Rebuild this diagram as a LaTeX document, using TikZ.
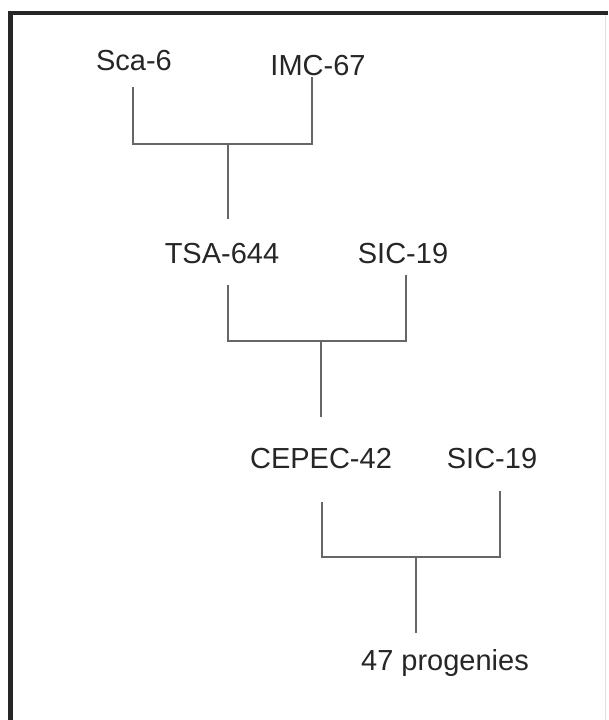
\documentclass[tikz,border=0pt]{standalone}
\usepackage{fontspec}
\setmainfont{Liberation Sans}
\begin{document}
\begin{tikzpicture}[
    x=1pt,
    y=-1pt,
    clone/.style={
        anchor=base,
        inner sep=0pt,
        text=black!85,
        font=\fontsize{29}{34}\selectfont
    },
    link/.style={
        line width=1.6pt,
        draw=black!60
    },
    framing/.style={
        line width=4.5pt,
        draw=black!85
    }
]
    \useasboundingbox (0,0) rectangle (608,720);

    % Rám
    \draw[framing] (10.5,720) -- (10.5,13) -- (608,13);
    \draw[black!12, line width=1pt] (605,15) -- (605,720);

    % Rodiče a potomci
    \node[clone] (sca)  at (134,70)  {Sca-6};
    \node[clone] (imc)  at (318,75)  {IMC-67};
    \node[clone] (tsa)  at (222,263) {TSA-644};
    \node[clone] (sica) at (403,263) {SIC-19};
    \node[clone] (cep)  at (321,468) {CEPEC-42};
    \node[clone] (sicb) at (492,468) {SIC-19};
    \node[clone] (prog) at (445,670) {47 progenies};

    % Konce čar
    \coordinate (sca-e)  at (133,87);
    \coordinate (imc-e)  at (312,77);
    \coordinate (j1)     at (228,144);
    \coordinate (tsa-e)  at (228,219);
    \coordinate (tsa-f)  at (228,285);
    \coordinate (sica-e) at (406,275);
    \coordinate (j2)     at (321,341);
    \coordinate (cep-e)  at (321,417);
    \coordinate (cep-f)  at (322,502);
    \coordinate (sicb-e) at (500,491);
    \coordinate (j3)     at (416,557);
    \coordinate (prog-e) at (416,633);

    % Křížení
    \foreach \a/\b/\j/\c in {
        sca-e/imc-e/j1/tsa-e,
        tsa-f/sica-e/j2/cep-e,
        cep-f/sicb-e/j3/prog-e}{
        \draw[link] (\a) |- (\j) -| (\b);
        \draw[link] (\j) -- (\c);
    }

\end{tikzpicture}
\end{document}
